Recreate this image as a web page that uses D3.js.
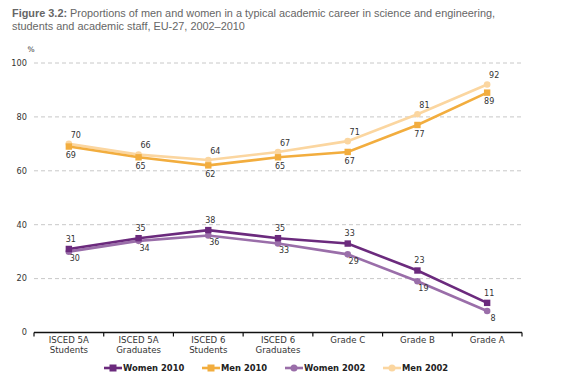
<!DOCTYPE html>
<html><head><meta charset="utf-8">
<script src="https://cdn.jsdelivr.net/npm/d3@7"></script>
<style>
body{margin:0;background:#fff;}
svg{display:block;}
text{font-family:"DejaVu Sans",Verdana,sans-serif;}
</style></head>
<body><svg id="c" width="562" height="382"></svg>
<script>
const categories = [["ISCED 5A","Students"],["ISCED 5A","Graduates"],["ISCED 6","Students"],["ISCED 6","Graduates"],["Grade C"],["Grade B"],["Grade A"]];
const women2010 = [31,35,38,35,33,23,11];
const men2010   = [69,65,62,65,67,77,89];
const women2002 = [30,34,36,33,29,19,8];
const men2002   = [70,66,64,67,71,81,92];
const yTicks = [0,20,40,60,80,100];
const seriesNames = ["Women 2010","Men 2010","Women 2002","Men 2002"];

const series = [
  {name:seriesNames[0], values:women2010, color:"#6b2a7d", shape:"square", dx:2, dy:-10},
  {name:seriesNames[1], values:men2010,   color:"#f2ad3e", shape:"square", dx:2, dy:9},
  {name:seriesNames[2], values:women2002, color:"#9a6ea9", shape:"circle", dx:6, dy:7},
  {name:seriesNames[3], values:men2002,   color:"#fbd6a0", shape:"circle", dx:7, dy:-9}
];

const svg = d3.select("#c");
const x = d3.scaleBand().domain(d3.range(categories.length)).range([34,522]);
const y = d3.scaleLinear().domain([0,100]).range([332.5,63]);

// title
const tf = "'Liberation Sans',Arial,sans-serif";
const tsz = "10.9px";
const t1 = svg.append("text").attr("x",12).attr("y",17).attr("fill","#666").attr("font-weight","bold")
  .style("font-family",tf).style("font-size",tsz).text("Figure 3.2:");
const w1 = t1.node().getComputedTextLength();
svg.append("text").attr("x",12+w1+3).attr("y",17).attr("fill","#666").style("font-family",tf).style("font-size",tsz)
  .text("Proportions of men and women in a typical academic career in science and engineering,");
svg.append("text").attr("x",12).attr("y",29.8).attr("fill","#666").style("font-family",tf).style("font-size",tsz)
  .text("students and academic staff, EU-27, 2002–2010");

// grid
svg.append("g").selectAll("line").data(yTicks.filter(d=>d>0)).join("line")
  .attr("x1",34).attr("x2",522).attr("y1",d=>y(d)).attr("y2",d=>y(d))
  .attr("stroke","#c8c8c8").attr("stroke-dasharray","4,3").attr("stroke-width",1);

// y labels
svg.append("g").selectAll("text").data(yTicks).join("text")
  .attr("x",27).attr("y",d=>y(d)).attr("dy","0.35em").attr("text-anchor","end")
  .attr("fill","#333").style("font-size","8.2px").text(d=>d);
svg.append("text").attr("x",31).attr("y",52).attr("text-anchor","middle").attr("fill","#333").style("font-size","7.5px").text("%");

// x axis
const xa = svg.append("g").attr("transform",`translate(0,${y(0)})`);
xa.append("line").attr("x1",34).attr("x2",522).attr("stroke","#111").attr("stroke-width",1.3);
const bounds = d3.range(categories.length+1).map(i=> i<categories.length ? x(i) : x(i-1)+x.bandwidth());
xa.selectAll("line.tk").data(bounds).join("line").attr("class","tk")
  .attr("x1",d=>d).attr("x2",d=>d).attr("y1",0).attr("y2",4).attr("stroke","#111").attr("stroke-width",1.2);
const cl = xa.selectAll("text.cat").data(categories).join("text").attr("class","cat")
  .attr("text-anchor","middle").attr("fill","#333").style("font-size","8.6px");
cl.each(function(d,i){
  const el = d3.select(this);
  d.forEach((s,j)=> el.append("tspan").attr("x",x(i)+x.bandwidth()/2).attr("y",10.5+j*9.5).text(s));
});

const cx = i => x(i)+x.bandwidth()/2;
const line = d3.line().x((d,i)=>cx(i)).y(d=>y(d));

const order = [3,2,1,0];
order.forEach(k=>{
  const s = series[k];
  const g = svg.append("g");
  g.append("path").attr("d",line(s.values)).attr("fill","none").attr("stroke",s.color).attr("stroke-width",2.6);
  if(s.shape==="square"){
    g.selectAll("rect").data(s.values).join("rect")
      .attr("x",(d,i)=>cx(i)-3.2).attr("y",d=>y(d)-3.2).attr("width",6.4).attr("height",6.4).attr("fill",s.color);
  } else {
    g.selectAll("circle").data(s.values).join("circle")
      .attr("cx",(d,i)=>cx(i)).attr("cy",d=>y(d)).attr("r",3.3).attr("fill",s.color);
  }
});
series.forEach(s=>{
  svg.append("g").selectAll("text").data(s.values).join("text")
    .attr("x",(d,i)=>cx(i)+s.dx).attr("y",d=>y(d)+s.dy).attr("dy","0.35em").attr("text-anchor","middle")
    .attr("fill","#333").style("font-size","8px").text(d=>d);
});

// legend
const legX = [104,202,285,383];
series.forEach((s,i)=>{
  const g = svg.append("g").attr("transform",`translate(${legX[i]},368)`);
  g.append("line").attr("x1",0).attr("x2",18).attr("stroke",s.color).attr("stroke-width",2.6);
  if(s.shape==="square") g.append("rect").attr("x",5.5).attr("y",-3.5).attr("width",7).attr("height",7).attr("fill",s.color);
  else g.append("circle").attr("cx",9).attr("cy",0).attr("r",3.5).attr("fill",s.color);
  g.append("text").attr("x",19).attr("y",0).attr("dy","0.35em").attr("fill","#222")
    .attr("font-weight","bold").style("font-size","8.4px").text(s.name);
});
</script></body></html>
